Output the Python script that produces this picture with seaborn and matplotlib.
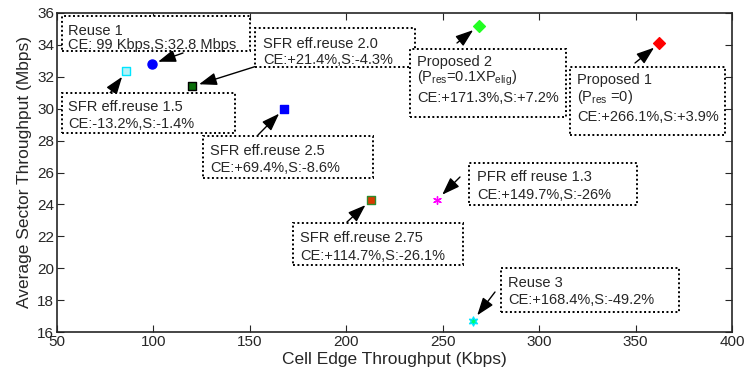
"""
Débit en bordure de cellule vs débit moyen du secteur, par schéma de réutilisation.
"""

import matplotlib

matplotlib.use("Agg")

import matplotlib.pyplot as plt
import matplotlib.transforms as mtransforms
import pandas as pd
import seaborn as sns
from matplotlib.patches import Rectangle


SCHEMES = [
    "Reuse 1",
    "SFR eff.reuse 1.5",
    "SFR eff.reuse 2.0",
    "SFR eff.reuse 2.5",
    "SFR eff.reuse 2.75",
    "PFR eff reuse 1.3",
    "Reuse 3",
    "Proposed 2",
    "Proposed 1",
]
CELL_EDGE_KBPS = [99, 85.9, 120.2, 167.7, 212.6, 247.2, 265.7, 268.6, 362.4]
SECTOR_MBPS = [32.8, 32.35, 31.4, 30.0, 24.25, 24.3, 16.7, 35.2, 34.1]

LABELS = [
    ["Reuse 1", "CE: 99 Kbps,S:32.8 Mbps"],
    ["SFR eff.reuse 1.5", "CE:-13.2%,S:-1.4%"],
    ["SFR eff.reuse 2.0", "CE:+21.4%,S:-4.3%"],
    ["SFR eff.reuse 2.5", "CE:+69.4%,S:-8.6%"],
    ["SFR eff.reuse 2.75", "CE:+114.7%,S:-26.1%"],
    ["PFR eff reuse 1.3", "CE:+149.7%,S:-26%"],
    ["Reuse 3", "CE:+168.4%,S:-49.2%"],
    ["Proposed 2", r"($\mathregular{P_{res}}$=0.1X$\mathregular{P_{elig}}$)",
     "CE:+171.3%,S:+7.2%"],
    ["Proposed 1", r"($\mathregular{P_{res}}$ =0)", "CE:+266.1%,S:+3.9%"],
]

X_TICKS = [50, 100, 150, 200, 250, 300, 350, 400]
Y_TICKS = [16, 18, 20, 22, 24, 26, 28, 30, 32, 34, 36]

# style des marqueurs : (marker, remplissage, bord, taille)
MARKER_STYLES = [
    ("o", "#0000ff", "#0000ff", 6.5),
    ("s", "#b4f2f8", "#00e5ff", 6),
    ("s", "#0a6e0a", "#000000", 6),
    ("s", "#0000ff", "#0000ff", 6),
    ("s", "#d83a00", "#2e8b2e", 6),
    ((6, 2, 0), "#ff00ff", "#ff00ff", 5.5),
    ((6, 1, 0), "#00ff66", "#00e5ff", 6.5),
    ("D", "#22ff22", "#22ff22", 6),
    ("D", "#ff0000", "#ff0000", 6),
]

# mise en page des étiquettes, en pixels depuis le coin haut-gauche
# (boîte x0, y0, x1, y1), x du texte, y de chaque ligne, origine de la flèche
LABEL_LAYOUT = [
    ((62, 16, 250, 51), 68, [31, 45], (183, 53)),
    ((62, 93, 235, 133), 68, [107, 124], (105, 100)),
    ((255, 28, 415, 67), 263, [44, 60], (257, 66)),
    ((203, 136, 373, 178), 210, [151, 168], (258, 135)),
    ((293, 223, 463, 265), 300, [238, 256], (347, 222)),
    ((469, 163, 637, 205), 477, [177, 195], (460, 177)),
    ((501, 268, 679, 312), 508, [283, 300], (495, 292)),
    ((410, 49, 566, 117), 417, [62, 78, 98], (457, 43)),
    ((570, 67, 725, 135), 577, [80, 97, 117], (635, 63)),
]

W, H = 748, 373


def main() -> None:
    sns.set_style("ticks")
    plt.rcParams["font.family"] = ["Liberation Sans", "DejaVu Sans"]
    plt.rcParams["mathtext.fontset"] = "custom"
    plt.rcParams["mathtext.rm"] = "Liberation Sans"

    df = pd.DataFrame(
        {"Scheme": SCHEMES, "CE": CELL_EDGE_KBPS, "S": SECTOR_MBPS}
    )

    fig = plt.figure(figsize=(W / 100, H / 100), dpi=100)
    ax = fig.add_axes([57 / W, 1 - 332 / H, 675 / W, 319 / H])
    px = mtransforms.Affine2D().scale(1 / W, -1 / H).translate(0, 1) + fig.transFigure

    for i, row in df.iterrows():
        marker, fc, ec, size = MARKER_STYLES[i]
        sns.scatterplot(
            data=df.iloc[[i]],
            x="CE",
            y="S",
            marker=marker,
            color=fc,
            edgecolor=ec,
            linewidth=1.0,
            s=size ** 2,
            ax=ax,
            zorder=3,
            legend=False,
        )

    for i, row in df.iterrows():
        (x0, y0, x1, y1), tx, ys, tail = LABEL_LAYOUT[i]
        fig.patches.append(
            Rectangle(
                (x0, y1), x1 - x0, y0 - y1,
                transform=px, facecolor="white", edgecolor="black",
                linestyle=(0, (1, 1.3)), linewidth=1.4, zorder=4,
            )
        )
        for line, y in zip(LABELS[i], ys):
            fig.text(tx, y, line, transform=px, fontsize=10.5,
                     ha="left", va="center", zorder=5)
        ax.annotate(
            "",
            xy=(row["CE"], row["S"]),
            xytext=tail,
            textcoords=px,
            arrowprops=dict(
                arrowstyle="-|>,head_length=0.9,head_width=0.32",
                mutation_scale=12, color="black", lw=1.0,
                shrinkA=0, shrinkB=5,
            ),
            zorder=6,
        )

    ax.set_xlim(50, 400)
    ax.set_ylim(16, 36)
    ax.set_xticks(X_TICKS)
    ax.set_yticks(Y_TICKS)
    ax.tick_params(direction="in", top=True, right=True, labelsize=11,
                   length=5, width=0.8, pad=2)
    for spine in ax.spines.values():
        spine.set_linewidth(1.2)
    ax.set_xlabel("Cell Edge Throughput (Kbps)", fontsize=12.5, labelpad=2)
    ax.set_ylabel("Average Sector Throughput (Mbps)", fontsize=12.5, labelpad=4)

    fig.savefig("out.png", dpi=100)
    plt.close(fig)


if __name__ == "__main__":
    main()
